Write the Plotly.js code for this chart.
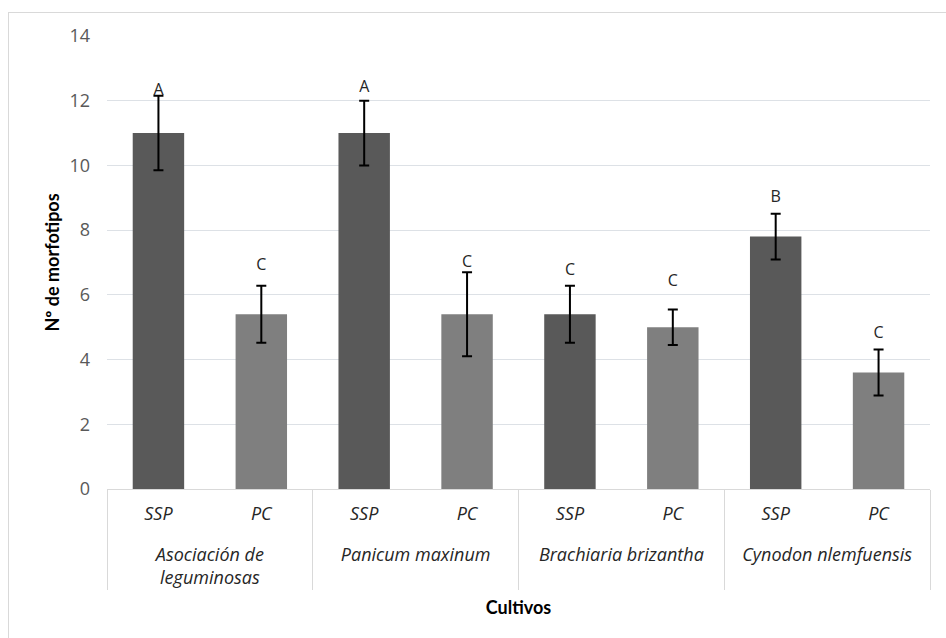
<!DOCTYPE html>
<html>
<head>
<meta charset="utf-8">
<script src="https://cdn.plot.ly/plotly-3.0.1.min.js"></script>
<style>
  html, body { margin: 0; padding: 0; background: #ffffff; }
  #wrap { position: relative; width: 946px; height: 638px; overflow: hidden; }
  #chart { position: absolute; left: 0; top: 0; width: 946px; height: 638px; }
  #frame { position: absolute; left: 8px; top: 12px; width: 960px; height: 660px;
           border-left: 1px solid #d9d9d9; border-top: 1px solid #d9d9d9; pointer-events: none; }
</style>
</head>
<body>
<div id="wrap">
  <div id="chart"></div>
  <div id="frame"></div>
</div>
<script>
// ---- data ----
const cultivos = [
  "Asociación de<br>leguminosas", "Asociación de<br>leguminosas",
  "Panicum maxinum", "Panicum maxinum",
  "Brachiaria brizantha", "Brachiaria brizantha",
  "Cynodon nlemfuensis", "Cynodon nlemfuensis"
];
const sistemas = ["SSP", "PC", "SSP", "PC", "SSP", "PC", "SSP", "PC"];
const morfotipos = [11.0, 5.4, 11.0, 5.4, 5.4, 5.0, 7.8, 3.6];
const errores = [1.15, 0.88, 1.0, 1.3, 0.88, 0.55, 0.71, 0.71];
const letras = ["A", "C", "A", "C", "C", "C", "B", "C"];
const letrasY = [12.3, 6.9, 12.4, 7.0, 6.75, 6.4, 9.0, 4.8];
const yTicks = [0, 2, 4, 6, 8, 10, 12, 14];

const colorSistema = { "SSP": "#595959", "PC": "#7f7f7f" };
const FONT = "Lato, 'Open Sans', sans-serif";
const FONT2 = "'Open Sans', Lato, sans-serif";

// inner labels get an empty second line so that the crop names sit lower, as in the reference
const sistemasLbl = sistemas.map(s => s + "<br>\u00a0");
const xCats = [cultivos, sistemasLbl];

const barTrace = {
  type: "bar",
  x: xCats,
  y: morfotipos,
  width: 0.5,
  marker: { color: sistemas.map(s => colorSistema[s]), line: { width: 0 } },
  error_y: { type: "data", array: errores, visible: true, color: "#000000", thickness: 2, width: 5 },
  hoverinfo: "skip",
  showlegend: false
};

const letterTrace = {
  type: "scatter",
  mode: "text",
  x: xCats,
  y: letrasY,
  text: letras,
  textposition: "middle center",
  textfont: { family: FONT2, size: 16, color: "#262626" },
  hoverinfo: "skip",
  showlegend: false
};

const layout = {
  width: 946,
  height: 638,
  margin: { l: 107, r: 16, t: 36, b: 149 },
  paper_bgcolor: "#ffffff",
  plot_bgcolor: "#ffffff",
  font: { family: FONT2, size: 18, color: "#595959" },
  showlegend: false,
  xaxis: {
    type: "multicategory",
    showline: true,
    linecolor: "#d9d9d9",
    linewidth: 1,
    showgrid: false,
    ticks: "",
    ticklabelstandoff: 8,
    showdividers: true,
    dividercolor: "#d9d9d9",
    dividerwidth: 1,
    tickfont: { family: FONT2, size: 18, color: "#262626", style: "italic" },
    title: { text: "<b>Cultivos</b>", font: { family: FONT, size: 18, color: "#000000" }, standoff: 12 }
  },
  yaxis: {
    range: [0, 14],
    tickvals: yTicks,
    ticktext: yTicks.map(String),
    showgrid: true,
    gridcolor: "#dde1e6",
    gridwidth: 1,
    zeroline: false,
    showline: false,
    ticks: "",
    ticklabelstandoff: 16,
    tickfont: { family: FONT2, size: 18, color: "#595959" },
    title: { text: "<b>Nº de morfotipos</b>", font: { family: FONT, size: 18, color: "#000000" }, standoff: 5 }
  }
};

Plotly.newPlot("chart", [barTrace, letterTrace], layout, { displayModeBar: false, staticPlot: true });
</script>
</body>
</html>
